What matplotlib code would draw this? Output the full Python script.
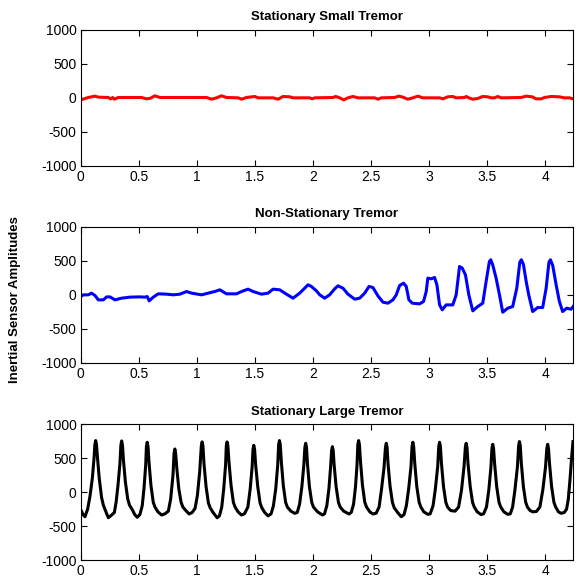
import matplotlib
matplotlib.use("Agg")
import matplotlib.pyplot as plt

plt.rcParams['font.family'] = ['Liberation Sans', 'DejaVu Sans']
plt.rcParams['axes.unicode_minus'] = False

# time [s] and sensor amplitude
t_small = [0.0, 0.02, 0.065, 0.123, 0.152, 0.238, 0.258, 0.275, 0.289, 0.324,
           0.524, 0.567, 0.602, 0.639, 0.682, 1.084, 1.127, 1.17, 1.213, 1.256,
           1.356, 1.385, 1.428, 1.499, 1.528, 1.657, 1.7, 1.743, 1.8, 1.829,
           1.972, 1.996, 2.015, 2.173, 2.196, 2.231, 2.265, 2.302, 2.345, 2.388,
           2.532, 2.56, 2.589, 2.704, 2.741, 2.775, 2.818, 2.861, 2.904, 2.947,
           3.091, 3.119, 3.162, 3.205, 3.234, 3.306, 3.32, 3.343, 3.377, 3.42,
           3.463, 3.506, 3.535, 3.564, 3.592, 3.621, 3.793, 3.837, 3.888, 3.923,
           3.966, 3.994, 4.052, 4.123, 4.166, 4.209, 4.252]
v_small = [-25, -20, 5, 25, 10, 5, -15, 5, -20, 5,
           5, -15, -5, 30, 5, 5, -20, 0, 30, 5,
           0, -20, 5, 20, 0, 0, -20, 20, 15, 0,
           0, -15, 0, 5, 20, 0, -30, 0, 20, 0,
           0, -20, 0, 5, 25, 10, -20, 0, 25, 0,
           0, -15, 15, 20, 0, 5, 20, 0, -20, -10,
           20, 15, 0, 0, 20, 0, 5, 25, 15, -15,
           -15, 5, 20, 15, 0, 0, -20]

t_nonstat = [0.0, 0.022, 0.065, 0.094, 0.123, 0.152, 0.195, 0.224, 0.252, 0.295,
             0.353, 0.424, 0.51, 0.553, 0.573, 0.59, 0.625, 0.668, 0.74, 0.797,
             0.854, 0.912, 0.955, 1.041, 1.098, 1.155, 1.198, 1.256, 1.342, 1.385,
             1.442, 1.485, 1.557, 1.614, 1.657, 1.714, 1.772, 1.829, 1.886, 1.929,
             1.958, 1.987, 2.03, 2.059, 2.101, 2.144, 2.188, 2.216, 2.259, 2.302,
             2.36, 2.403, 2.446, 2.483, 2.517, 2.56, 2.603, 2.646, 2.689, 2.718,
             2.747, 2.781, 2.804, 2.827, 2.856, 2.919, 2.953, 2.976, 2.99, 3.019,
             3.048, 3.068, 3.091, 3.114, 3.148, 3.205, 3.234, 3.263, 3.286, 3.314,
             3.343, 3.377, 3.42, 3.463, 3.492, 3.52, 3.532, 3.549, 3.578, 3.607, 3.635,
             3.678, 3.721, 3.756, 3.782, 3.795, 3.813, 3.837, 3.859, 3.893, 3.936, 3.979,
             4.009, 4.033, 4.046, 4.066, 4.095, 4.123, 4.151, 4.186, 4.224, 4.252]
v_nonstat = [-25, 0, 0, 25, -10, -74, -74, -30, -30, -74,
             -49, -34, -30, -34, -25, -89, -34, 15, 10, 0,
             10, 49, 25, 0, 25, 49, 74, 15, 15, 49,
             84, 49, 10, 25, 84, 74, 10, -49, 25, 98,
             148, 123, 59, 0, -49, 0, 89, 133, 98, 10,
             -64, -49, 25, 123, 108, -15, -108, -123, -74, 0,
             138, 172, 123, -74, -123, -133, -98, 49, 246, 236,
             256, 148, -148, -221, -148, -148, 0, 418, 394, 295,
             0, -236, -172, -123, 197, 490, 517, 440, 246, 0, -256,
             -197, -172, 98, 480, 517, 450, 197, 0, -246, -187, -187,
             98, 480, 517, 430, 148, -98, -246, -197, -212, -148]

t_large = [0.0, 0.02, 0.037, 0.06, 0.08, 0.1, 0.115, 0.122, 0.129, 0.136, 0.145, 0.16,
           0.18, 0.195, 0.215, 0.238,
           0.265, 0.29, 0.305, 0.32, 0.338, 0.346, 0.353, 0.36, 0.368, 0.385, 0.405, 0.42, 0.445, 0.465, 0.487,
           0.51, 0.53, 0.545, 0.56, 0.566, 0.573, 0.58, 0.588, 0.605, 0.625, 0.64, 0.665, 0.697,
           0.725, 0.755, 0.775, 0.795, 0.804, 0.811, 0.818, 0.828, 0.845, 0.865, 0.88, 0.905, 0.934,
           0.96, 0.985, 1.005, 1.025, 1.039, 1.046, 1.053, 1.062, 1.08, 1.1, 1.115, 1.14, 1.175,
           1.195, 1.215, 1.232, 1.248, 1.254, 1.261, 1.268, 1.277, 1.295, 1.315, 1.33, 1.355, 1.385,
           1.41, 1.44, 1.46, 1.477, 1.484, 1.491, 1.498, 1.507, 1.525, 1.545, 1.56, 1.585, 1.614,
           1.64, 1.66, 1.68, 1.697, 1.705, 1.712, 1.719, 1.728, 1.745, 1.765, 1.78, 1.81, 1.843,
           1.865, 1.885, 1.905, 1.922, 1.931, 1.938, 1.945, 1.953, 1.97, 1.99, 2.005, 2.04, 2.082,
           2.1, 2.12, 2.138, 2.153, 2.161, 2.168, 2.175, 2.183, 2.2, 2.22, 2.235, 2.265, 2.311,
           2.33, 2.35, 2.367, 2.38, 2.387, 2.394, 2.401, 2.41, 2.427, 2.447, 2.462, 2.49, 2.517,
           2.545, 2.57, 2.59, 2.612, 2.625, 2.632, 2.639, 2.647, 2.665, 2.685, 2.7, 2.73, 2.761,
           2.785, 2.805, 2.825, 2.845, 2.854, 2.861, 2.868, 2.877, 2.895, 2.915, 2.93, 2.955, 2.99,
           3.01, 3.035, 3.055, 3.075, 3.084, 3.091, 3.098, 3.107, 3.125, 3.145, 3.16, 3.18, 3.19,
           3.225, 3.255, 3.28, 3.302, 3.313, 3.32, 3.327, 3.336, 3.355, 3.375, 3.39, 3.415, 3.449,
           3.47, 3.495, 3.515, 3.533, 3.542, 3.549, 3.556, 3.565, 3.583, 3.603, 3.618, 3.645, 3.678,
           3.7, 3.72, 3.74, 3.762, 3.772, 3.779, 3.786, 3.795, 3.813, 3.833, 3.848, 3.87, 3.893,
           3.925, 3.955, 3.98, 4.003, 4.015, 4.022, 4.029, 4.038, 4.056, 4.076, 4.091, 4.115, 4.138,
           4.165, 4.185, 4.2, 4.215, 4.228, 4.24]
v_large = [-255, -330, -362, -250, -60, 200, 500, 700, 760, 700, 500, 200,
           -80, -190, -280, -377,
           -340, -300, -150, 80, 420, 690, 755, 690, 480, 150, -100, -190, -260, -330, -370,
           -330, -200, 50, 400, 670, 735, 670, 450, 100, -150, -220, -290, -337,
           -320, -280, -100, 250, 570, 636, 570, 350, 50, -150, -220, -270, -322,
           -300, -240, -50, 300, 680, 741, 680, 420, 80, -160, -230, -300, -377,
           -350, -220, 50, 400, 680, 740, 680, 450, 100, -150, -220, -290, -337,
           -320, -220, 50, 380, 630, 690, 630, 400, 80, -160, -230, -300, -350,
           -320, -200, 50, 400, 700, 760, 700, 450, 100, -150, -220, -280, -312,
           -300, -180, 80, 400, 660, 720, 660, 420, 80, -150, -220, -290, -337,
           -320, -200, 50, 380, 610, 670, 610, 400, 80, -150, -220, -280, -322,
           -300, -180, 80, 400, 700, 760, 700, 450, 100, -150, -220, -290, -322,
           -310, -220, 30, 350, 660, 720, 660, 420, 80, -150, -230, -300, -362,
           -330, -200, 50, 380, 675, 735, 675, 430, 80, -150, -220, -290, -327,
           -320, -200, 50, 380, 675, 735, 675, 430, 80, -150, -220, -260, -273,
           -280, -220, 30, 380, 660, 720, 660, 420, 80, -150, -220, -290, -331,
           -320, -220, 30, 360, 645, 705, 645, 420, 80, -150, -220, -290, -327,
           -320, -220, 30, 380, 685, 745, 685, 430, 80, -150, -220, -270, -290,
           -285, -220, 30, 360, 645, 705, 645, 420, 80, -150, -220, -290, -312,
           -300, -250, -100, 200, 500, 745]

titles = ['Stationary Small Tremor', 'Non-Stationary Tremor', 'Stationary Large Tremor']
series = [(t_small, v_small, '#ff0000'),
          (t_nonstat, v_nonstat, '#0000ff'),
          (t_large, v_large, '#000000')]
xticks = [0, 0.5, 1, 1.5, 2, 2.5, 3, 3.5, 4]
xticklabels = ['0', '0.5', '1', '1.5', '2', '2.5', '3', '3.5', '4']
yticks = [-1000, -500, 0, 500, 1000]

fig = plt.figure(figsize=(5.78, 5.82), dpi=100)
bottoms = [0.7153, 0.3768, 0.0378]

for i in range(3):
    ax = fig.add_axes([0.1396, bottoms[i], 0.8517, 0.2332])
    t, v, c = series[i]
    ax.plot(t, v, color=c, linewidth=2.2, solid_joinstyle='round')
    ax.set_xlim(0, 4.24)
    ax.set_ylim(-1000, 1000)
    ax.set_xticks(xticks)
    ax.set_xticklabels(xticklabels)
    ax.set_yticks(yticks)
    ax.tick_params(direction='in', length=4, width=0.8, top=True, right=True,
                   labelsize=10, pad=3)
    for s in ax.spines.values():
        s.set_linewidth(0.8)
    ax.set_title(titles[i], fontsize=9.5, fontweight='bold', pad=7)

fig.text(0.026, 0.485, 'Inertial Sensor Amplitudes', rotation=90, fontsize=9.5,
         fontweight='bold', ha='center', va='center')

fig.savefig('out.png', dpi=100)
